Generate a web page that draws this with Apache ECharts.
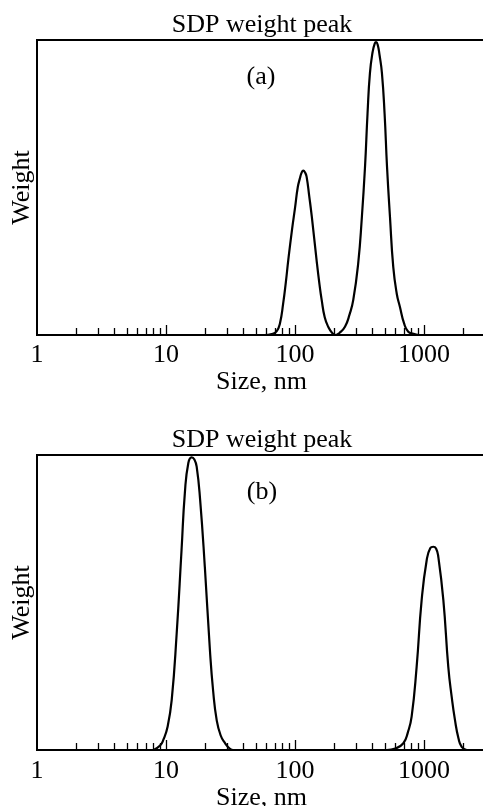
<!DOCTYPE html>
<html>
<head>
<meta charset="utf-8">
<script src="https://cdn.jsdelivr.net/npm/echarts@6/dist/echarts.min.js"></script>
<style>
html,body{margin:0;padding:0;background:#fff;}
#chart{width:483px;height:806px;}
</style>
</head>
<body>
<div id="chart"></div>
<script>
// Panel (a): size (nm) and weight (relative)
var sizeA = [58, 66, 72, 76.5, 81, 85, 88.7, 95, 100, 105, 109, 113, 116, 120, 123, 129, 135, 147, 155, 161, 170, 181, 195, 207, 220, 244, 265, 283, 309, 330, 349, 365, 381, 400, 415, 425, 437, 452, 472, 495, 517, 545, 578, 615, 651, 700, 755, 830, 914];
var weightA = [0, 0.003, 0.012, 0.04, 0.107, 0.18, 0.254, 0.36, 0.43, 0.5, 0.53, 0.552, 0.557, 0.55, 0.537, 0.47, 0.401, 0.254, 0.17, 0.119, 0.06, 0.028, 0.006, 0, 0.006, 0.028, 0.07, 0.119, 0.243, 0.4, 0.57, 0.75, 0.888, 0.96, 0.988, 0.993, 0.985, 0.95, 0.888, 0.75, 0.57, 0.4, 0.23, 0.14, 0.095, 0.04, 0.011, 0.004, 0];

// Panel (b)
var sizeB = [8, 9, 9.53, 10.3, 11.07, 12.1, 13.2, 14.0, 14.9, 15.8, 16.6, 17.3, 18.4, 20.0, 21.9, 23.2, 24.7, 26.5, 28.7, 31, 33.2, 514, 600, 692, 750, 802, 877, 959, 1050, 1120, 1180, 1240, 1291, 1413, 1543, 1640, 1738, 1850, 1960, 2143];
var weightB = [0, 0.015, 0.034, 0.08, 0.169, 0.395, 0.678, 0.871, 0.973, 0.992, 0.985, 0.96, 0.847, 0.621, 0.339, 0.2, 0.102, 0.05, 0.023, 0.006, 0, 0, 0.005, 0.023, 0.06, 0.113, 0.282, 0.508, 0.644, 0.685, 0.689, 0.683, 0.655, 0.508, 0.282, 0.18, 0.102, 0.04, 0.011, 0];

// Axis ticks
var xLabelValues = [1, 10, 100, 1000];
var xLabelTexts = ['1', '10', '100', '1000'];
var majorTickValues = [10, 100, 1000];
var minorTickValues = [2,3,4,5,6,7,8,9,20,30,40,50,60,70,80,90,200,300,400,500,600,700,800,900,2000,3000];
var xMin = 1, xMax = 3025;

var titleText = 'SDP weight peak';
var panelLabels = ['(a)', '(b)'];
var xName = 'Size, nm';
var yName = 'Weight';

var FONT = '"Liberation Serif","Times New Roman",serif';
var lg = function (v) { return Math.log10(v); };

function pairs(xs, ys) {
  return xs.map(function (x, i) { return [lg(x), ys[i]]; });
}

function mainX(gridIndex, nameGap, margin) {
  return {
    gridIndex: gridIndex, type: 'value', min: lg(xMin), max: lg(xMax), position: 'bottom',
    axisLine: { show: true, lineStyle: { color: '#000', width: 2 } },
    axisTick: { show: true, inside: true, length: 10, customValues: majorTickValues.map(lg), lineStyle: { color: '#000', width: 1.3 } },
    axisLabel: {
      customValues: xLabelValues.map(lg), color: '#000', fontFamily: FONT, fontSize: 26, margin: margin,
      formatter: function (v) {
        for (var i = 0; i < xLabelValues.length; i++) if (Math.abs(lg(xLabelValues[i]) - v) < 1e-6) return xLabelTexts[i];
        return '';
      }
    },
    splitLine: { show: false },
    name: xName, nameLocation: 'middle', nameGap: nameGap,
    nameTextStyle: { color: '#000', fontFamily: FONT, fontSize: 26 }
  };
}
function minorX(gridIndex) {
  return {
    gridIndex: gridIndex, type: 'value', min: lg(xMin), max: lg(xMax), position: 'bottom', offset: 0,
    axisLine: { show: false },
    axisTick: { show: true, inside: true, length: 7, customValues: minorTickValues.map(lg), lineStyle: { color: '#000', width: 1.3 } },
    axisLabel: { show: false }, splitLine: { show: false }
  };
}
function yAx(gridIndex) {
  return {
    gridIndex: gridIndex, type: 'value', min: 0, max: 1,
    axisLine: { show: false }, axisTick: { show: false }, axisLabel: { show: false }, splitLine: { show: false },
    name: yName, nameLocation: 'middle', nameGap: 2, nameRotate: 90,
    nameTextStyle: { color: '#000', fontFamily: FONT, fontSize: 26 }
  };
}
function lineSeries(xi, yi, data) {
  return {
    type: 'line', xAxisIndex: xi, yAxisIndex: yi, data: data, showSymbol: false, smooth: 0.5,
    lineStyle: { color: '#000', width: 2.2 }, animation: false, silent: true
  };
}

var chart = echarts.init(document.getElementById('chart'), null, { renderer: 'canvas' });
chart.setOption({
  backgroundColor: '#fff',
  animation: false,
  grid: [
    { left: 37, top: 40, width: 449, height: 295, show: true, borderColor: '#000', borderWidth: 2, backgroundColor: 'transparent', containLabel: false, outerBoundsMode: 'none' },
    { left: 37, top: 455, width: 449, height: 295, show: true, borderColor: '#000', borderWidth: 2, backgroundColor: 'transparent', containLabel: false, outerBoundsMode: 'none' }
  ],
  xAxis: [mainX(0, 31, 7), minorX(0), mainX(1, 33, 8), minorX(1)],
  yAxis: [yAx(0), yAx(1)],
  series: [
    lineSeries(0, 0, pairs(sizeA, weightA)),
    lineSeries(2, 1, pairs(sizeB, weightB))
  ],
  graphic: [
    { type: 'text', x: 262, y: 25, style: { text: titleText, font: '26px ' + FONT, fill: '#000', textAlign: 'center', textVerticalAlign: 'middle' } },
    { type: 'text', x: 261, y: 77, style: { text: panelLabels[0], font: '26px ' + FONT, fill: '#000', textAlign: 'center', textVerticalAlign: 'middle' } },
    { type: 'text', x: 262, y: 440, style: { text: titleText, font: '26px ' + FONT, fill: '#000', textAlign: 'center', textVerticalAlign: 'middle' } },
    { type: 'text', x: 262, y: 492, style: { text: panelLabels[1], font: '26px ' + FONT, fill: '#000', textAlign: 'center', textVerticalAlign: 'middle' } }
  ]
});
</script>
</body>
</html>
